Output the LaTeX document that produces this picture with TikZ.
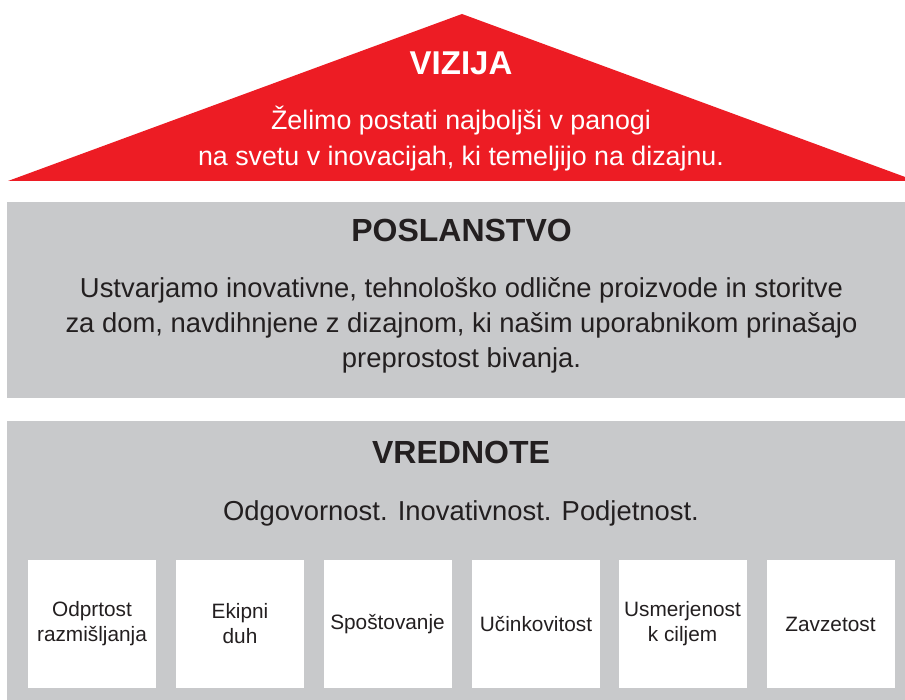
\documentclass[tikz,border=0pt]{standalone}
\usepackage{fontspec}
\setmainfont{Liberation Sans}
\definecolor{vred}{HTML}{ED1C24}
\definecolor{vgray}{HTML}{C8C9CB}
\definecolor{vtext}{HTML}{231F20}
\begin{document}
\begin{tikzpicture}[x=1pt,y=-1pt,
  band/.style={fill=vgray,draw=none},
  title/.style={font=\fontsize{32}{36}\selectfont\bfseries,text=vtext,anchor=base,inner sep=0pt},
  body/.style={font=\fontsize{27.4}{35}\selectfont,text=vtext,align=center,anchor=base,inner sep=0pt},
  valbox/.style={fill=white,draw=none,minimum width=128pt,minimum height=128pt,inner sep=0pt,
    font=\fontsize{20.8}{25}\selectfont,text=vtext,align=center}]
\useasboundingbox (0,0) rectangle (905,700);
\fill[white] (0,0) rectangle (905,700);
% roof
\coordinate (apex) at (462,14);
\coordinate (roofL) at (8,181);
\coordinate (roofR) at (916,181);
\fill[vred] (roofL) -- (apex) -- (roofR) -- cycle;
\node[title,text=white,font=\fontsize{33}{36}\selectfont\bfseries] (vizija) at (461,75) {VIZIJA};
\node[body,text=white,font=\fontsize{26.8}{36}\selectfont] (vizijatxt) at (461,166)
  {Želimo postati najboljši v panogi\\na svetu v inovacijah, ki temeljijo na dizajnu.};
% mission band
\fill[band] (7,202) rectangle (905,398);
\node[title] (posl) at (461.5,242) {POSLANSTVO};
\node[body] (posltxt) at (461.5,368)
  {Ustvarjamo inovativne, tehnološko odlične proizvode in storitve\\za dom, navdihnjene z dizajnom, ki našim uporabnikom prinašajo\\preprostost bivanja.};
% values band
\fill[band] (7,421) rectangle (905,700);
\node[title] (vred) at (461,464) {VREDNOTE};
\node[body] (vredtxt) at (461,520) {Odgovornost. Inovativnost. Podjetnost.};
\node[valbox] (v1) at (92,624) {Odprtost\\razmišljanja};
\node[valbox] (v2) at (240,624) {Ekipni\\duh};
\node[valbox] (v3) at (387.5,624) {Spoštovanje};
\node[valbox] (v4) at (536,624) {Učinkovitost};
\node[valbox] (v5) at (682.5,624) {Usmerjenost\\k ciljem};
\node[valbox] (v6) at (830.5,624) {Zavzetost};
\end{tikzpicture}
\end{document}
